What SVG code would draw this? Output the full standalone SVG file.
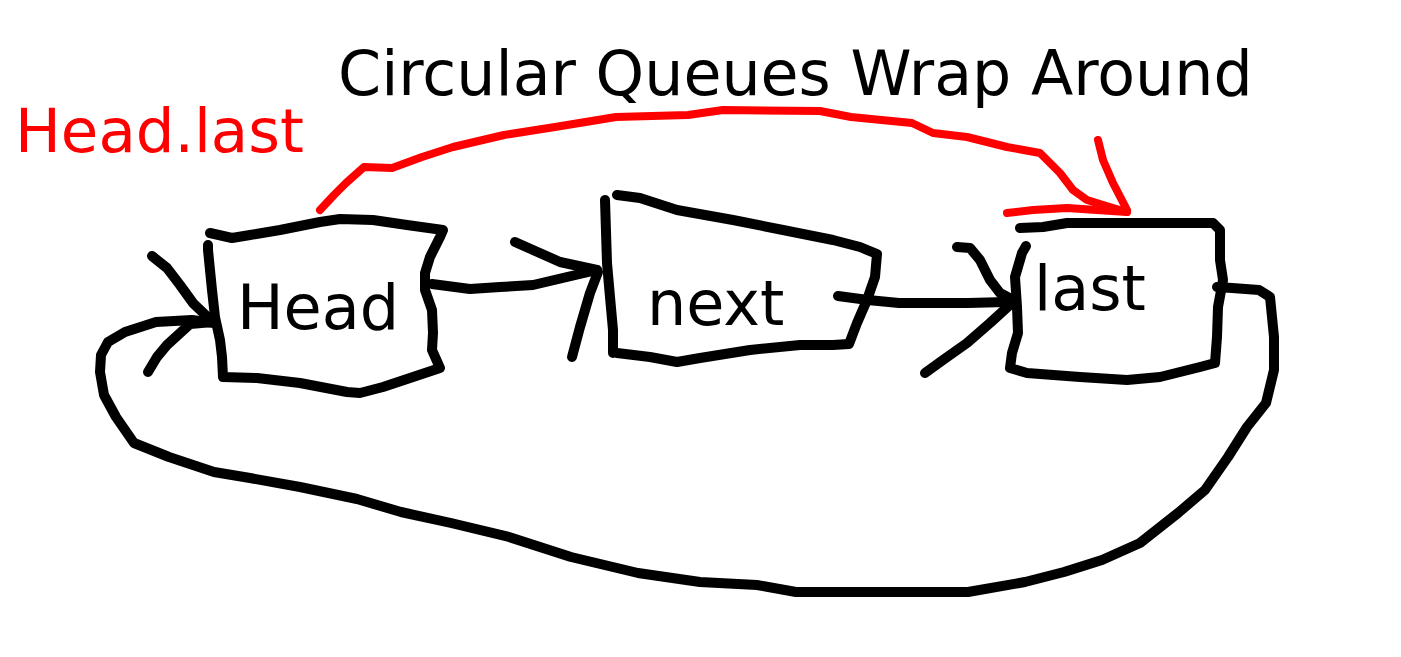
<svg xmlns="http://www.w3.org/2000/svg" width="1401" height="657" viewBox="0 0 1401 657">
<style>
.ink{fill:none;stroke:#000;stroke-width:10;stroke-linecap:round;stroke-linejoin:round}
.red{fill:none;stroke:#ff0000;stroke-width:8;stroke-linecap:round;stroke-linejoin:round}
.t{font-family:"DejaVu Sans","Liberation Sans",sans-serif;font-size:62px;fill:#000}
</style>
<rect width="1401" height="657" fill="#fff"/>
<text x="338" y="95" class="t" style="font-size:61.8px">Circular Queues Wrap Around</text>
<text x="15" y="152" class="t" style="fill:#ff0000;font-size:61px">Head.last</text>
<g id="head">
<polyline class="ink" points="210,233 232,238 250,235 280,230 320,222 340,219 373,220 407,225 443,230 440,237 430,257 425,273 425,290 432,310 433,333 432,350 440,368 413,377 383,387 360,393 347,392 300,383 257,378 223,377 222,357 220,340 215,317 212,290 208,250 208,245"/>
<text x="237" y="329" class="t">Head</text>
</g>
<g id="next">
<polyline class="ink" points="605,200 607,263 610,297 613,330 613,353"/>
<polyline class="ink" points="617,195 640,198 677,210 733,220 783,230 833,240 860,247 877,254 875,277 867,300 857,323 849,344 833,345 800,345 750,350 700,358 677,362 650,357 617,353"/>
<text x="647" y="325" class="t">next</text>
</g>
<g id="last">
<polyline class="ink" points="1020,228 1043,227 1067,223 1213,223 1220,230 1220,260 1223,280 1218,307 1217,337 1215,363 1200,367 1160,377 1127,380 1080,377 1027,373 1010,368 1012,353 1018,333 1017,307 1015,277 1022,253 1026,246"/>
<text x="1034" y="310" class="t">last</text>
</g>
<g id="connectors">
<polyline class="ink" points="432,284 470,289 500,287 533,285 567,277 597,270"/>
<polyline class="ink" points="515,242 533,250 560,262 597,270"/>
<polyline class="ink" points="572,357 580,327 590,293 598,272"/>
<polyline class="ink" points="838,296 868,300 899,303 968,303 1006,302 1016,299"/>
<polyline class="ink" points="957,247 970,248 980,260 990,280 1000,293 1013,300"/>
<polyline class="ink" points="925,373 943,360 967,343 990,323 1013,302"/>
<polyline class="ink" points="1217,287 1232,288 1259,290 1270,297 1274,337 1274,370 1266,403 1247,427 1228,457 1205,490 1178,513 1140,543 1102,560 1064,572 1025,582 968,592 796,592 757,585 700,582 638,573 571,557 509,537 451,523 401,512 357,499 300,487 250,478 214,472 169,457 134,443 116,417 104,395 100,372 101,355 108,342 125,332 156,322 192,320 214,323"/>
<polyline class="ink" points="152,256 167,268 180,285 193,303 213,322"/>
<polyline class="ink" points="148,372 157,357 167,345 190,324 213,322"/>
<polyline class="red" points="320,210 334,195 346,183 364,167 392,168 422,157 453,147 504,135 555,127 616,117 688,115 723,110 820,111 851,117 912,123 933,133 967,137 1007,147 1040,153 1060,173 1073,190 1087,200 1113,208 1127,212"/>
<polyline class="red" points="1098,140 1103,160 1113,183 1127,210"/>
<polyline class="red" points="1007,213 1033,210 1067,208 1127,212"/>
</g>
</svg>
